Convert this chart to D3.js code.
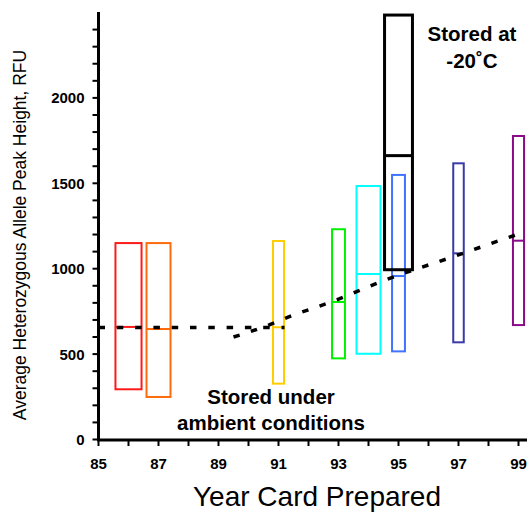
<!doctype html>
<html lang="en">
<head>
  <meta charset="utf-8">
  <title>Peak height by year card prepared</title>
  <style>
    html, body {
      margin: 0;
      padding: 0;
      background: white;
    }
    svg text {
      font-family: Arial, 'Liberation Sans', sans-serif;
      fill: #000;
    }
  </style>
</head>
<body>
  <div id="chart"></div>

  <script src="https://d3js.org/d3.v7.min.js"></script>
  <script>
    // box data: year card prepared, low / median / high peak height (RFU)
    const years   = [86, 87, 91, 93, 94, 95, 95, 97, 99];
    const lows    = [294, 249, 327, 475, 502, 516, 994, 569, 670];
    const medians = [659, 647, 657, 805, 969, 957, 1662, 1090, 1164];
    const highs   = [1150, 1150, 1162, 1231, 1484, 1549, 2485, 1617, 1777];

    // ambient-storage flat line and trend line
    const flatYears  = [85, 91.2];
    const flatValues = [656, 656];
    const trendYears  = [89.5, 90.6, 91.3, 92.9, 94.5, 96.9, 98.7, 99.2];
    const trendValues = [600, 665, 715, 815, 930, 1075, 1185, 1215];

    const yTickLabels = [0, 500, 1000, 1500, 2000];
    const xTickLabels = [85, 87, 89, 91, 93, 95, 97, 99];

    // styles
    const colors = ["#ff1a1a", "#ff6a0a", "#ffcc00", "#00f000", "#00ffff",
                    "#4073ff", "#000000", "#3a3aa8", "#8a0a8a"];
    const boxWidths = [0.87, 0.8, 0.37, 0.43, 0.8, 0.43, 0.93, 0.35, 0.37];  // in years

    const W = 531, H = 514;
    const svg = d3.select("#chart")
      .append("svg")
      .attr("width", W)
      .attr("height", H);

    const x = d3.scaleLinear().domain([85, 99]).range([98.5, 518.5]);
    const y = d3.scaleLinear().domain([0, 2500]).range([439.5, 12.5]);

    // boxes
    const boxes = years.map((yr, i) => ({
      year: yr, low: lows[i], med: medians[i], high: highs[i],
      color: colors[i], w: boxWidths[i]
    }));

    const g = svg.append("g").selectAll("g")
      .data(boxes)
      .enter().append("g");

    g.append("rect")
      .attr("x", d => x(d.year - d.w / 2))
      .attr("y", d => y(d.high))
      .attr("width", d => x(d.year + d.w / 2) - x(d.year - d.w / 2))
      .attr("height", d => y(d.low) - y(d.high))
      .attr("fill", "none")
      .attr("stroke", d => d.color)
      .attr("stroke-width", d => d.color === "#000000" ? 3 : 2);

    g.append("line")
      .attr("x1", d => x(d.year - d.w / 2))
      .attr("x2", d => x(d.year + d.w / 2))
      .attr("y1", d => y(d.med))
      .attr("y2", d => y(d.med))
      .attr("stroke", d => d.color)
      .attr("stroke-width", d => d.color === "#000000" ? 3 : 2);

    // dashed lines
    const line = d3.line()
      .x(d => x(d[0]))
      .y(d => y(d[1]))
      .curve(d3.curveMonotoneX);

    svg.append("path")
      .attr("d", line(d3.zip(flatYears, flatValues)))
      .attr("fill", "none")
      .attr("stroke", "#000")
      .attr("stroke-width", 3.5)
      .attr("stroke-dasharray", "6.5,11.8");

    svg.append("path")
      .attr("d", line(d3.zip(trendYears, trendValues)))
      .attr("fill", "none")
      .attr("stroke", "#000")
      .attr("stroke-width", 3.5)
      .attr("stroke-dasharray", "6.5,11.8");

    // y axis
    const yAxis = svg.append("g").attr("transform", `translate(${x(85)},0)`);
    yAxis.append("line")
      .attr("y1", y(0) + 1.5).attr("y2", 12)
      .attr("stroke", "#000").attr("stroke-width", 3);
    yAxis.selectAll(".tk")
      .data(d3.range(0, 2500, 100))
      .enter().append("line")
      .attr("x1", -6).attr("x2", 0)
      .attr("y1", d => y(d)).attr("y2", d => y(d))
      .attr("stroke", "#000").attr("stroke-width", 2);
    yAxis.selectAll("text")
      .data(yTickLabels)
      .enter().append("text")
      .attr("x", -14)
      .attr("y", d => y(d))
      .attr("dy", "0.36em")
      .attr("text-anchor", "end")
      .style("font-size", "15px")
      .style("font-weight", "bold")
      .text(d => d);

    // x axis
    const xAxis = svg.append("g").attr("transform", `translate(0,${y(0) + 0.5})`);
    xAxis.append("line")
      .attr("x1", x(85) - 1.5).attr("x2", 527)
      .attr("stroke", "#000").attr("stroke-width", 3);
    xAxis.selectAll(".tk")
      .data(d3.range(85, 100))
      .enter().append("line")
      .attr("x1", d => x(d)).attr("x2", d => x(d))
      .attr("y1", 0).attr("y2", 6)
      .attr("stroke", "#000").attr("stroke-width", 2);
    xAxis.selectAll("text")
      .data(xTickLabels)
      .enter().append("text")
      .attr("x", d => x(d))
      .attr("y", 28.5)
      .attr("text-anchor", "middle")
      .style("font-size", "15px")
      .style("font-weight", "bold")
      .text(d => d);

    // axis titles
    svg.append("text")
      .attr("transform", "translate(26,235) rotate(-90)")
      .attr("text-anchor", "middle")
      .style("font-size", "17.5px")
      .text("Average Heterozygous Allele Peak Height, RFU");

    svg.append("text")
      .attr("x", 317)
      .attr("y", 506)
      .attr("text-anchor", "middle")
      .style("font-size", "28px")
      .text("Year Card Prepared");

    // annotations
    const note = (lines, cx, y0, dy) => {
      const t = svg.append("text")
        .attr("text-anchor", "middle")
        .style("font-size", "20.5px")
        .style("font-weight", "bold");
      lines.forEach((s, i) => t.append("tspan").attr("x", cx).attr("y", y0 + i * dy).text(s));
    };
    note(["Stored at", "-20\u02DAC"], 472, 40.5, 27.5);
    note(["Stored under", "ambient conditions"], 271, 404, 26);
  </script>
</body>
</html>
